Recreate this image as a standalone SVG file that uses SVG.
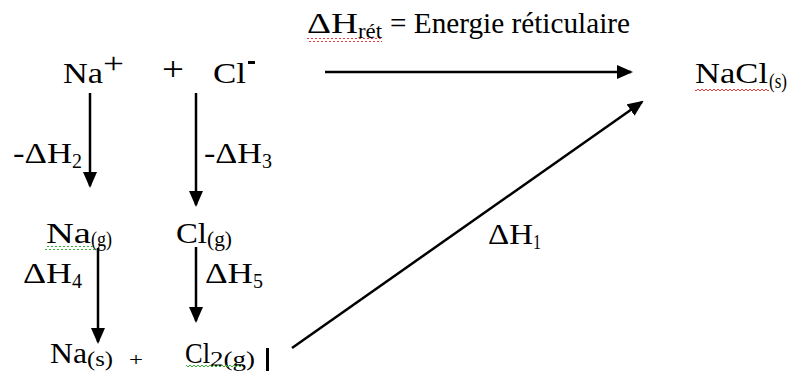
<svg xmlns="http://www.w3.org/2000/svg" width="793" height="372" viewBox="0 0 793 372">
<style>
text{font-family:"Liberation Serif","Times New Roman",serif;fill:#000;font-size:30px}
.sub{font-size:20px}
.conn line{stroke:#000;stroke-width:2.5;marker-end:url(#ah)}
</style>
<defs>
<marker id="ah" markerUnits="userSpaceOnUse" markerWidth="16" markerHeight="14" refX="14" refY="7" orient="auto">
<path d="M0,0 L16,7 L0,14 z" fill="#000"/>
</marker>
<pattern id="wr" width="4" height="4" patternUnits="userSpaceOnUse">
<path d="M0,3 L2,1 L4,3" fill="none" stroke="#e83a3a" stroke-width="1"/>
</pattern>
<pattern id="wg" width="4" height="4" patternUnits="userSpaceOnUse">
<path d="M0,3 L2,1 L4,3" fill="none" stroke="#3cae3c" stroke-width="1"/>
</pattern>
</defs>
<rect width="793" height="372" fill="#fff"/>

<g id="title">
<text x="307" y="33" textLength="51" lengthAdjust="spacingAndGlyphs">ΔH</text>
<text class="sub" x="358" y="38" textLength="24" lengthAdjust="spacingAndGlyphs">rét</text>
<text x="390" y="33" textLength="240" lengthAdjust="spacingAndGlyphs">= Energie réticulaire</text>
<rect x="307" y="38" width="75" height="4" fill="url(#wr)"/>
</g>

<g id="na-plus">
<text x="63" y="83" textLength="40" lengthAdjust="spacingAndGlyphs">Na</text>
<text x="103" y="73" textLength="21" lengthAdjust="spacingAndGlyphs">+</text>
</g>
<g id="plus1">
<text x="162" y="80" style="font-size:34px" textLength="22" lengthAdjust="spacingAndGlyphs">+</text>
</g>
<g id="cl-minus">
<text x="213" y="83" textLength="33" lengthAdjust="spacingAndGlyphs">Cl</text>
<rect x="248" y="61" width="7" height="3" fill="#000"/>
</g>

<g id="nacl-s">
<text x="695" y="83" textLength="73" lengthAdjust="spacingAndGlyphs">NaCl</text>
<text class="sub" x="769" y="88" textLength="18" lengthAdjust="spacingAndGlyphs">(s)</text>
<rect x="695" y="88" width="74" height="4" fill="url(#wr)"/>
</g>

<g id="na-g">
<text x="46" y="243" textLength="45" lengthAdjust="spacingAndGlyphs">Na</text>
<text class="sub" x="91" y="246" textLength="21" lengthAdjust="spacingAndGlyphs">(g)</text>
<rect x="45" y="246" width="50" height="4" fill="url(#wg)"/>
</g>
<g id="cl-g">
<text x="176" y="243" textLength="31" lengthAdjust="spacingAndGlyphs">Cl</text>
<text class="sub" x="207" y="246" textLength="25" lengthAdjust="spacingAndGlyphs">(g)</text>
</g>

<g id="na-s">
<text x="50" y="363" textLength="37" lengthAdjust="spacingAndGlyphs">Na</text>
<text class="sub" x="87" y="366" textLength="26" lengthAdjust="spacingAndGlyphs">(s)</text>
</g>
<g id="plus2">
<text x="129" y="366" style="font-size:18px" textLength="14" lengthAdjust="spacingAndGlyphs">+</text>
</g>
<g id="cl2-g">
<text x="185" y="363" textLength="25" lengthAdjust="spacingAndGlyphs">Cl</text>
<text class="sub" x="210" y="366" textLength="45" lengthAdjust="spacingAndGlyphs">2(g)</text>
<rect x="186" y="365" width="56" height="4" fill="url(#wg)"/>
<rect x="266" y="348" width="3" height="23" fill="#000"/>
</g>

<g id="labels">
<text x="13" y="163" textLength="59" lengthAdjust="spacingAndGlyphs">-ΔH</text>
<text class="sub" x="72" y="168" textLength="10" lengthAdjust="spacingAndGlyphs">2</text>
<text x="204" y="163" textLength="58" lengthAdjust="spacingAndGlyphs">-ΔH</text>
<text class="sub" x="262" y="168" textLength="10" lengthAdjust="spacingAndGlyphs">3</text>
<text x="23" y="283" textLength="49" lengthAdjust="spacingAndGlyphs">ΔH</text>
<text class="sub" x="72" y="288" textLength="10" lengthAdjust="spacingAndGlyphs">4</text>
<text x="205" y="283" textLength="48" lengthAdjust="spacingAndGlyphs">ΔH</text>
<text class="sub" x="253" y="288" textLength="10" lengthAdjust="spacingAndGlyphs">5</text>
<text x="488" y="244" textLength="45" lengthAdjust="spacingAndGlyphs">ΔH</text>
<text class="sub" x="533" y="249" textLength="8" lengthAdjust="spacingAndGlyphs">1</text>
</g>

<g id="connectors" class="conn">
<line x1="325" y1="72" x2="631" y2="72"/>
<line x1="90" y1="93" x2="90" y2="186"/>
<line x1="196" y1="93" x2="196" y2="205"/>
<line x1="98" y1="248" x2="98" y2="342"/>
<line x1="196" y1="247" x2="196" y2="321"/>
<line x1="292" y1="348" x2="642" y2="102"/>
</g>
</svg>
